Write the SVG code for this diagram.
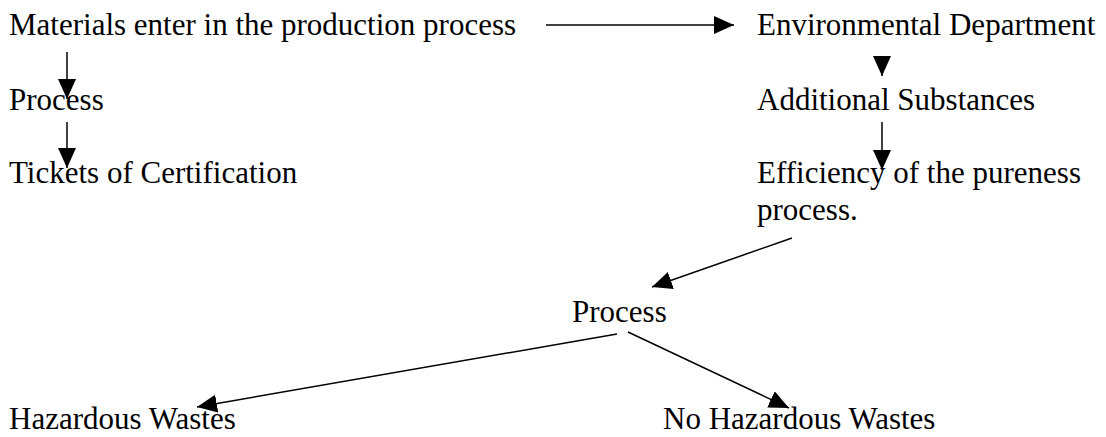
<svg xmlns="http://www.w3.org/2000/svg" width="1106" height="437" viewBox="0 0 1106 437">
<style>
text{font-family:"Liberation Serif","Times New Roman",serif;font-size:31px;fill:#000}
.c{stroke:#000;stroke-width:1.5;fill:none;marker-end:url(#ah)}
</style>
<defs>
<marker id="ah" viewBox="0 0 20 18" refX="20" refY="9" markerWidth="20" markerHeight="18" markerUnits="userSpaceOnUse" orient="auto">
<path d="M0,0 L20,9 L0,18 Z" fill="#000"/>
</marker>
</defs>
<rect width="1106" height="437" fill="#fff"/>
<g id="connectors">
<path class="c" d="M546,25 L734,25"/>
<path class="c" d="M67,52 L67,99"/>
<path class="c" d="M67,122 L67,168"/>
<path class="c" d="M882,56 L882,76"/>
<path class="c" d="M882,122 L882,170"/>
<path class="c" d="M792,238 L652,287"/>
<path class="c" d="M617,334 L197,407"/>
<path class="c" d="M628,332 L789,408"/>
</g>
<g id="materials"><text x="9" y="35">Materials enter in the production process</text></g>
<g id="env"><text x="757" y="35">Environmental Department</text></g>
<g id="process1"><text x="9" y="110">Process</text></g>
<g id="additional"><text x="757" y="110">Additional Substances</text></g>
<g id="tickets"><text x="9" y="183">Tickets of Certification</text></g>
<g id="efficiency"><text x="757" y="183">Efficiency of the pureness</text><text x="757" y="220">process.</text></g>
<g id="process2"><text x="572" y="322">Process</text></g>
<g id="hazardous"><text x="9" y="429">Hazardous Wastes</text></g>
<g id="nohazardous"><text x="663" y="429">No Hazardous Wastes</text></g>
</svg>
